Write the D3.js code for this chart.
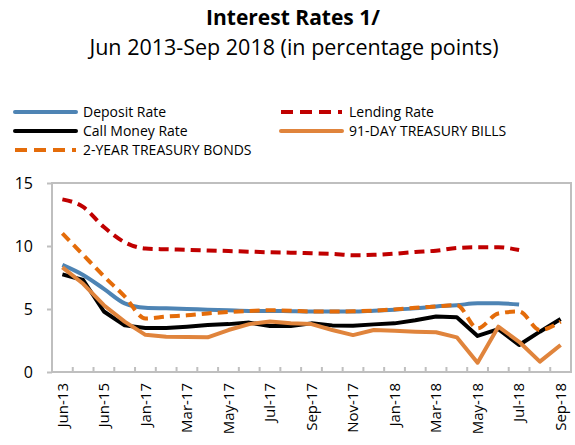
<!DOCTYPE html>
<html>
<head>
<meta charset="utf-8">
<script src="https://cdn.jsdelivr.net/npm/d3@7"></script>
<style>
  body { margin: 0; background: #fff; }
  text { font-family: "Open Sans", "Noto Sans", sans-serif; fill: #000; }
</style>
</head>
<body>
<div id="chart"></div>
<script>
// categories (hidden labels between Jun-13 / Jun-15 / Jan-17)
var months = ["Jun-13", "Jun-14", "Jun-15", "Jun-16", "Jan-17", "Feb-17", "Mar-17", "Apr-17", "May-17",
  "Jun-17", "Jul-17", "Aug-17", "Sep-17", "Oct-17", "Nov-17", "Dec-17", "Jan-18", "Feb-18", "Mar-18",
  "Apr-18", "May-18", "Jun-18", "Jul-18", "Aug-18", "Sep-18"];

// series values (null = no data)
var depositRate = [8.5, 7.7, 6.6, 5.45, 5.1, 5.05, 5.0, 4.95, 4.9, 4.85, 4.85, 4.82, 4.8, 4.8, 4.8, 4.87,
  4.95, 5.05, 5.2, 5.3, 5.45, 5.45, 5.35, null, null];
var lendingRate = [13.7, 13.1, 11.5, 10.3, 9.8, 9.74, 9.7, 9.65, 9.6, 9.55, 9.5, 9.47, 9.42, 9.37, 9.27,
  9.3, 9.39, 9.52, 9.63, 9.84, 9.9, 9.9, 9.68, null, null];
var callMoney = [7.75, 7.3, 4.8, 3.7, 3.5, 3.5, 3.6, 3.73, 3.8, 3.92, 3.65, 3.65, 3.86, 3.7, 3.68, 3.78,
  3.86, 4.1, 4.4, 4.34, 2.86, 3.4, 2.14, 3.2, 4.2];
var tBills91 = [8.3, 7.0, 5.3, 4.0, 2.95, 2.8, 2.77, 2.75, 3.33, 3.8, 4.0, 3.87, 3.8, 3.33, 2.93, 3.33,
  3.28, 3.2, 3.15, 2.75, 0.74, 3.6, 2.4, 0.82, 2.14];
var tBonds2y = [11.0, 9.3, 7.6, 6.0, 4.25, 4.4, 4.5, 4.65, 4.76, 4.84, 4.9, 4.87, 4.8, 4.8, 4.82, 4.87,
  4.97, 5.1, 5.2, 5.3, 3.47, 4.65, 4.8, 3.33, 4.0];

var yTicks = [0, 5, 10, 15];

var series = [
  { name: "Deposit Rate", values: depositRate, color: "#4e84b4", dash: null, smooth: true, lx: 13, ly: 112 },
  { name: "Lending Rate", values: lendingRate, color: "#c00000", dash: "10,6", smooth: true, lx: 279, ly: 112 },
  { name: "Call Money Rate", values: callMoney, color: "#000000", dash: null, smooth: false, lx: 13, ly: 131 },
  { name: "91-DAY TREASURY BILLS", values: tBills91, color: "#e0843c", dash: null, smooth: false, lx: 279, ly: 131 },
  { name: "2-YEAR TREASURY BONDS", values: tBonds2y, color: "#e46c0a", dash: "10,6", smooth: true, lx: 13, ly: 150 }
];

var width = 575, height = 445;
var margin = {top: 183, right: 4, bottom: 73, left: 52};

var svg = d3.select("#chart").append("svg")
    .attr("width", width)
    .attr("height", height);

// titles
svg.append("text").attr("x", 293).attr("y", 25).attr("text-anchor", "middle")
    .style("font-size", "21px").style("font-weight", "bold").text("Interest Rates 1/");
svg.append("text").attr("x", 294).attr("y", 55).attr("text-anchor", "middle")
    .style("font-size", "21.5px").text("Jun 2013-Sep 2018 (in percentage points)");

var x = d3.scaleBand().domain(months).range([margin.left, width - margin.right]).padding(0);
var y = d3.scaleLinear().domain([0, 15]).range([height - margin.bottom, margin.top]);
var cx = d => x(d) + x.bandwidth() / 2;

// plot frame
svg.append("rect")
    .attr("x", margin.left).attr("y", margin.top)
    .attr("width", width - margin.right - margin.left)
    .attr("height", height - margin.bottom - margin.top)
    .attr("fill", "none").attr("stroke", "#bfbfbf").attr("stroke-width", 2);

// y axis
var yAxis = svg.append("g")
    .attr("transform", "translate(" + margin.left + ",0)")
    .call(d3.axisLeft(y).tickValues(yTicks).tickSize(5).tickPadding(14));
yAxis.select(".domain").remove();
yAxis.selectAll("line").attr("stroke", "#bfbfbf").attr("stroke-width", 2);
yAxis.selectAll("text").style("font-size", "16px").style("font-family", "'Open Sans', sans-serif");

// x axis: labels on every other category, ticks between categories
var xAxis = svg.append("g")
    .attr("transform", "translate(0," + (height - margin.bottom) + ")")
    .call(d3.axisBottom(x).tickSize(0).tickFormat((d, i) => i % 2 == 0 ? d : ""));
xAxis.select(".domain").remove();
xAxis.selectAll("text")
    .style("font-size", "15px").style("font-family", "'Open Sans', sans-serif")
    .attr("text-anchor", "end")
    .attr("transform", "translate(0,11) rotate(-90)")
    .attr("x", 0).attr("y", 0).attr("dy", "0.35em");

svg.append("g").selectAll("line")
    .data(months.slice(1))
    .enter().append("line")
    .attr("x1", d => x(d)).attr("x2", d => x(d))
    .attr("y1", height - margin.bottom).attr("y2", height - margin.bottom - 5)
    .attr("stroke", "#bfbfbf").attr("stroke-width", 2);

// lines
series.forEach(function(s) {
  var line = d3.line()
      .defined(v => v != null)
      .x((v, i) => cx(months[i]))
      .y(v => y(v))
      .curve(s.smooth ? d3.curveMonotoneX : d3.curveLinear);
  svg.append("path")
      .datum(s.values)
      .attr("d", line)
      .attr("fill", "none")
      .attr("stroke", s.color)
      .attr("stroke-width", 4)
      .attr("stroke-linejoin", "round")
      .attr("stroke-dasharray", s.dash);
});

// legend
var legend = svg.append("g").selectAll("g")
    .data(series)
    .enter().append("g");
legend.append("line")
    .attr("x1", d => d.lx + 2).attr("x2", d => d.lx + 63)
    .attr("y1", d => d.ly).attr("y2", d => d.ly)
    .attr("stroke", d => d.color).attr("stroke-width", 4)
    .attr("stroke-linecap", d => d.dash ? "butt" : "round")
    .attr("stroke-dasharray", d => d.dash ? "12,7" : null);
legend.append("text")
    .attr("x", d => d.lx + 70).attr("y", d => d.ly)
    .attr("dy", "0.35em")
    .style("font-size", "14px")
    .text(d => d.name);
</script>
</body>
</html>
